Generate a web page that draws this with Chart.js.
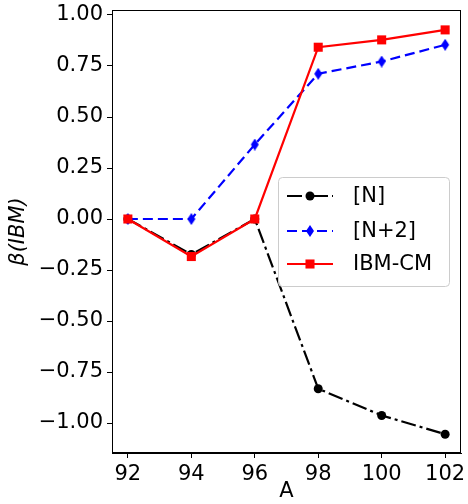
<!DOCTYPE html>
<html>
<head>
<meta charset="utf-8">
<style>
html,body{margin:0;padding:0;background:#fff;}
canvas{display:block;}
</style>
<script src="https://cdn.jsdelivr.net/npm/chart.js@4/dist/chart.umd.min.js"></script>
</head>
<body>
<canvas id="c" width="468" height="504"></canvas>
<script>
const massNumbers = [92, 94, 96, 98, 100, 102];
const betaN = [0.0, -0.174, 0.0, -0.832, -0.963, -1.055];
const betaN2 = [0.0, 0.0, 0.365, 0.712, 0.772, 0.854];
const betaIBMCM = [0.0, -0.184, 0.0, 0.842, 0.878, 0.927];
const xTicks = [92, 94, 96, 98, 100, 102];
const yTicks = [-1.0, -0.75, -0.5, -0.25, 0.0, 0.25, 0.5, 0.75, 1.0];
const seriesNames = ['[N]', '[N+2]', 'IBM-CM'];

const FONT = 'DejaVu Sans';
const FS = 21;

function thinDiamond(color) {
  const cv = document.createElement('canvas');
  cv.width = 10; cv.height = 12;
  const g = cv.getContext('2d');
  g.fillStyle = color;
  g.beginPath();
  g.moveTo(5, 0); g.lineTo(9, 6); g.lineTo(5, 12); g.lineTo(1, 6); g.closePath();
  g.fill();
  return cv;
}
const diamondImg = thinDiamond('#0000ff');

const pts = arr => massNumbers.map((x, i) => ({x: x, y: arr[i]}));

const datasets = [
  {label: seriesNames[0], data: pts(betaN), borderColor: '#000', backgroundColor: '#000',
   borderWidth: 2.2, borderDash: [15, 4, 3, 4], pointStyle: 'circle', pointRadius: 4.5,
   pointBorderWidth: 0, order: 3},
  {label: seriesNames[1], data: pts(betaN2), borderColor: '#0000ff', backgroundColor: '#0000ff',
   borderWidth: 2.2, borderDash: [10, 5], pointStyle: diamondImg, pointRadius: 5,
   pointBorderWidth: 0, order: 2},
  {label: seriesNames[2], data: pts(betaIBMCM), borderColor: '#ff0000', backgroundColor: '#ff0000',
   borderWidth: 2.2, pointStyle: 'rect', pointRadius: 6.4, pointBorderWidth: 0, order: 1}
];

const framePlugin = {
  id: 'frame',
  afterDraw(chart) {
    const ctx = chart.ctx, a = chart.chartArea;
    ctx.save();
    ctx.strokeStyle = '#000';
    ctx.lineWidth = 1;
    ctx.strokeRect(Math.round(a.left) + 0.5, Math.round(a.top) + 0.5,
                   Math.round(a.right - a.left) - 1, Math.round(a.bottom - a.top) - 1);
    // legend
    const w = 171, h = 109;
    const right = a.right - 12;
    const cy = (a.top + a.bottom) / 2;
    const lx = Math.round(right - w), ly = Math.round(cy - h / 2);
    ctx.fillStyle = 'rgba(255,255,255,0.8)';
    ctx.strokeStyle = '#cccccc';
    ctx.lineWidth = 1;
    ctx.beginPath();
    ctx.roundRect(lx + 0.5, ly + 0.5, w, h, 4);
    ctx.fill();
    ctx.stroke();
    const rowY = [ly + 19, ly + 54, ly + 87];
    chart.data.datasets.forEach((ds, i) => {
      const y = rowY[i];
      ctx.save();
      ctx.strokeStyle = ds.borderColor;
      ctx.lineWidth = ds.borderWidth;
      ctx.setLineDash(ds.borderDash || []);
      ctx.beginPath();
      ctx.moveTo(lx + 9, y);
      ctx.lineTo(lx + 55, y);
      ctx.stroke();
      ctx.restore();
      ctx.fillStyle = ds.backgroundColor;
      if (ds.pointStyle === 'circle') {
        ctx.beginPath(); ctx.arc(lx + 32, y, ds.pointRadius, 0, Math.PI * 2); ctx.fill();
      } else if (ds.pointStyle === 'rect') {
        const s = ds.pointRadius * Math.SQRT1_2;
        ctx.fillRect(lx + 32 - s, y - s, 2 * s, 2 * s);
      } else {
        ctx.drawImage(ds.pointStyle, lx + 32 - 5, y - 6);
      }
      ctx.fillStyle = '#000';
      ctx.font = FS + 'px "' + FONT + '"';
      ctx.textBaseline = 'middle';
      ctx.textAlign = 'left';
      ctx.fillText(ds.label, lx + 75, y + 1);
    });
    ctx.restore();
  }
};

new Chart(document.getElementById('c'), {
  type: 'line',
  data: {datasets: datasets},
  options: {
    responsive: false,
    animation: false,
    devicePixelRatio: 1,
    layout: {padding: {top: 10, right: 7, left: 0, bottom: 0}},
    plugins: {legend: {display: false}, tooltip: {enabled: false}},
    scales: {
      x: {
        type: 'linear', min: 91.5, max: 102.5,
        afterFit(s) { s.height = 51; s.paddingLeft = 0; s.paddingRight = 0; },
        afterBuildTicks(s) { s.ticks = xTicks.map(v => ({value: v})); },
        grid: {drawOnChartArea: false, drawTicks: true, tickLength: 5, color: '#000'},
        border: {display: true, color: '#000', width: 1},
        ticks: {color: '#000', font: {family: FONT, size: FS}, padding: 4, maxRotation: 0,
                callback: v => String(v)},
        title: {display: true, text: 'A', color: '#000', font: {family: FONT, size: FS}, padding: {top: 0, bottom: 0}}
      },
      y: {
        type: 'linear', min: -1.147, max: 1.0245,
        afterFit(s) { s.width = 112; s.paddingTop = 0; s.paddingBottom = 0; },
        afterBuildTicks(s) { s.ticks = yTicks.map(v => ({value: v})); },
        grid: {drawOnChartArea: false, drawTicks: true, tickLength: 5, color: '#000'},
        border: {display: true, color: '#000', width: 1},
        ticks: {color: '#000', font: {family: FONT, size: FS}, padding: 4,
                callback: v => v.toFixed(2).replace('-', '\u2212')},
        title: {display: true, text: 'β(IBM)', color: '#000',
                font: {family: FONT, size: FS, style: 'italic'}, padding: {top: 6, bottom: 0}}
      }
    }
  },
  plugins: [framePlugin]
});
</script>
</body>
</html>
